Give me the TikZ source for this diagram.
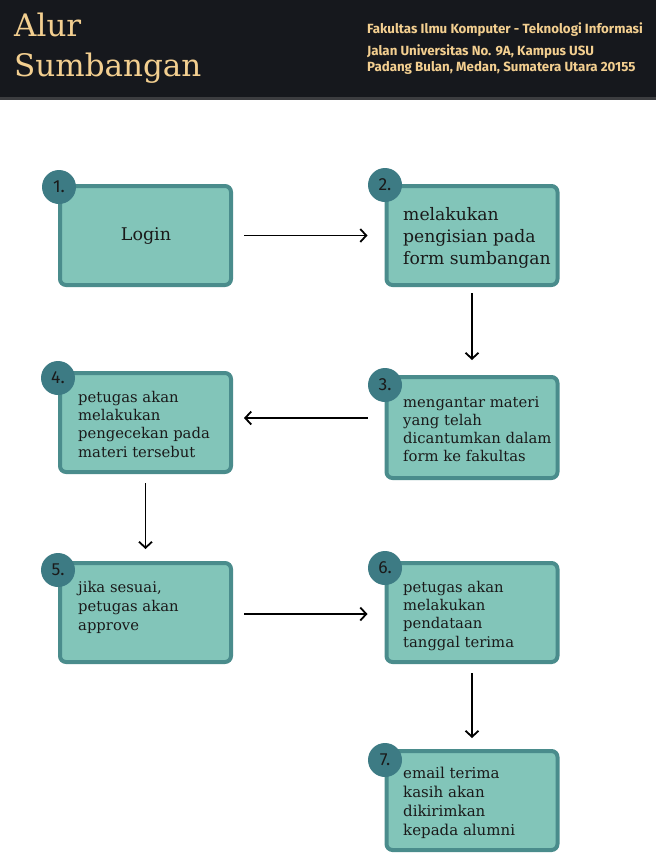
\documentclass[tikz,border=0pt]{standalone}
\usepackage{fontspec}
\setmainfont{DejaVu Serif}
\newfontfamily\hsans{Fira Sans}
\usetikzlibrary{arrows.meta}
\definecolor{hdrbg}{HTML}{16181D}
\definecolor{hdrline}{HTML}{3C3D40}
\definecolor{gold}{HTML}{F3CF90}
\definecolor{boxfill}{HTML}{82C5B9}
\definecolor{boxline}{HTML}{4A8C8C}
\definecolor{circfill}{HTML}{3D7B84}
\definecolor{ink}{HTML}{1A1A1A}
\tikzset{
  stepbox/.style={draw=boxline, fill=boxfill, line width=4pt, rounded corners=6pt,
    minimum width=171pt, minimum height=99pt, inner sep=0pt},
  stepbox3/.style={stepbox, minimum height=101pt},
  numcirc/.style={circle, fill=circfill, minimum size=34pt, inner sep=0pt,
    font=\hsans\fontsize{17.5}{17.5}\selectfont, text=ink},
  bigtxt/.style={anchor=base west, inner sep=0pt, align=left, text=ink,
    font=\fontsize{17.2}{22}\selectfont},
  smalltxt/.style={anchor=base west, inner sep=0pt, align=left, text=ink,
    font=\fontsize{14.8}{18.3}\selectfont},
  arr/.style={-{Straight Barb[length=6pt,width=13pt]}, line width=1.8pt, black},
}
\begin{document}
\begin{tikzpicture}[x=1pt,y=-1pt]
\fill[white] (0,0) rectangle (656,857);
\useasboundingbox (0,0) rectangle (656,857);
% header
\fill[hdrbg] (0,0) rectangle (656,99);
\fill[hdrline] (0,97) rectangle (656,100);
\node[anchor=base west, inner sep=0pt, align=left, text=gold,
  font=\fontsize{31}{40}\selectfont] (title) at (14,76) {Alur\\Sumbangan};
\node[anchor=base west, inner sep=0pt, text=gold,
  font=\hsans\bfseries\fontsize{13.3}{14}\selectfont] (fak) at (367,33)
  {Fakultas Ilmu Komputer - Teknologi Informasi};
\node[anchor=base west, inner sep=0pt, align=left, text=gold,
  font=\hsans\bfseries\fontsize{13.3}{16}\selectfont] (addr) at (367,71)
  {Jalan Universitas No. 9A, Kampus USU\\Padang Bulan, Medan, Sumatera Utara 20155};
% boxes
\node[stepbox] (b1) at (145.5,235.5) {};
\node[stepbox] (b2) at (472,235.5) {};
\node[stepbox3] (b3) at (472,427.5) {};
\node[stepbox] (b4) at (145.5,422.5) {};
\node[stepbox] (b5) at (145.5,612.5) {};
\node[stepbox] (b6) at (472,612.5) {};
\node[stepbox] (b7) at (472,800.5) {};
% circles
\node[numcirc] (c1) at (59,187) {1.};
\node[numcirc] (c2) at (385,185) {2.};
\node[numcirc] (c3) at (385,385) {3.};
\node[numcirc] (c4) at (58,378) {4.};
\node[numcirc] (c5) at (58,570) {5.};
\node[numcirc] (c6) at (385,568) {6.};
\node[numcirc] (c7) at (385,760) {7.};
% texts (anchored at the baseline of the last line)
\node[inner sep=0pt, text=ink, font=\fontsize{17.5}{21.5}\selectfont] (t1) at (146,236) {Login};
\node[bigtxt] (t2) at (403,264) {melakukan\\pengisian pada\\form sumbangan};
\node[smalltxt, font=\fontsize{14.8}{17.7}\selectfont] (t3) at (403,461) {mengantar materi\\yang telah\\dicantumkan dalam\\form ke fakultas};
\node[smalltxt] (t4) at (78,457) {petugas akan\\melakukan\\pengecekan pada\\materi tersebut};
\node[smalltxt, font=\fontsize{14.8}{19}\selectfont] (t5) at (78,630) {jika sesuai,\\petugas akan\\approve};
\node[smalltxt] (t6) at (403,647) {petugas akan\\melakukan\\pendataan\\tanggal terima};
\node[smalltxt, font=\fontsize{15}{19}\selectfont] (t7) at (403,835) {email terima\\kasih akan\\dikirimkan\\kepada alumni};
% arrows
\draw[arr, shorten <=11pt, shorten >=17pt] (b1.east) -- (b2.west);
\draw[arr, shorten <=6pt, shorten >=15pt] (b2.south) -- (b2.south |- b3.north);
\draw[arr, shorten <=17pt, shorten >=11pt] ([yshift=9.5pt]b3.west) -- ([yshift=4.5pt]b4.east);
\draw[arr, shorten <=9pt, shorten >=12pt] (b4.south) -- (b5.north);
\draw[arr, shorten <=11pt, shorten >=17pt] ([yshift=-1.5pt]b5.east) -- ([yshift=-1.5pt]b6.west);
\draw[arr, shorten <=9pt, shorten >=11pt] (b6.south) -- (b7.north);
\end{tikzpicture}
\end{document}
